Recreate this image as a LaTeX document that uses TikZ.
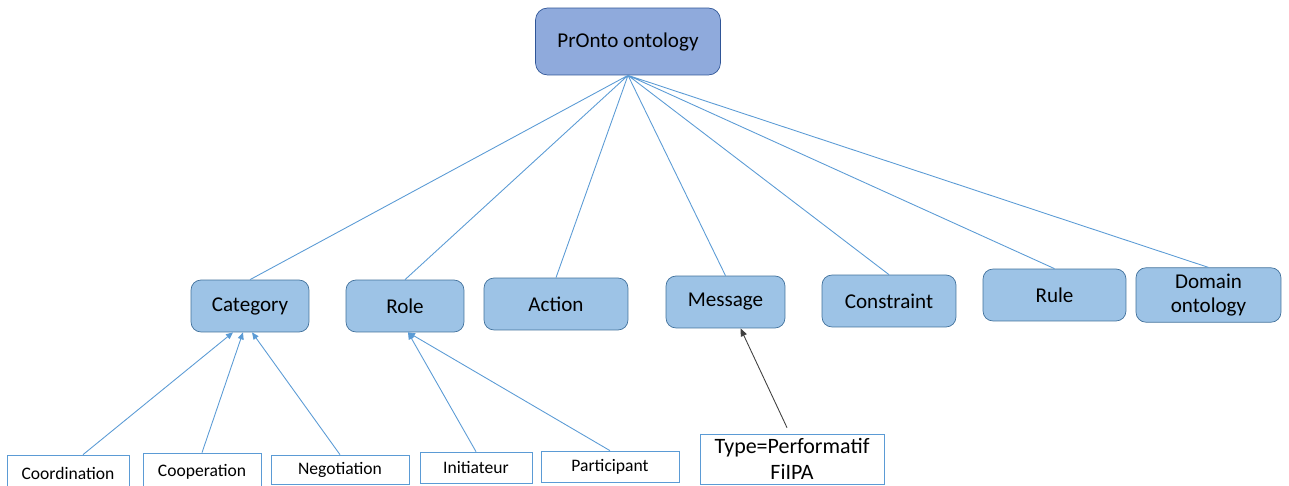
\documentclass[tikz,border=0pt]{standalone}
\usepackage{fontspec}
\setmainfont{Carlito}
\usetikzlibrary{arrows.meta}

\definecolor{rootfill}{RGB}{143,170,220}
\definecolor{rootline}{RGB}{47,85,151}
\definecolor{midfill}{RGB}{157,195,230}
\definecolor{midline}{RGB}{65,113,156}
\definecolor{linkblue}{RGB}{91,155,213}

\begin{document}
\begin{tikzpicture}[x=0.02cm, y=-0.02cm]
    \tikzstyle{root}=[draw=rootline, fill=rootfill, rounded corners=0.24cm, minimum width=3.7cm, minimum height=1.34cm, font=\fontsize{12}{14}\selectfont];
    \tikzstyle{concept}=[draw=midline, fill=midfill, rounded corners=0.2cm, minimum height=1.04cm, align=center, font=\fontsize{12}{14}\selectfont];
    \tikzstyle{leaf}=[draw=linkblue, fill=white, minimum height=0.6cm, font=\fontsize{10}{12}\selectfont];
    \tikzstyle{link}=[linkblue, line width=0.5pt];
    \tikzstyle{up}=[linkblue, line width=0.5pt, -{Triangle[length=4pt, width=3.4pt]}];

    \useasboundingbox (0,0) rectangle (1289,486);
    \clip (0,0) rectangle (1289,486);

    \node[root] at (628,41.5) (pronto) {PrOnto ontology};

    \node[concept, minimum width=2.36cm] at (250,306) (cat) {Category};
    \node[concept, minimum width=2.36cm] at (405,306) (role) {Role};
    \node[concept, minimum width=2.88cm] at (556,304) (action) {Action};
    \node[concept, minimum width=2.38cm] at (725.5,302) (msg) {Message};
    \node[concept, minimum width=2.68cm] at (889,301) (constr) {Constraint};
    \node[concept, minimum width=2.86cm] at (1054.5,295) (rule) {Rule};
    \node[concept, minimum width=2.9cm] at (1208.5,295) (domain) {Domain\\ontology};

    \node[leaf, minimum width=2.44cm, minimum height=0.74cm] at (68,473.5) (coord) {Coordination};
    \node[leaf, minimum width=2.36cm, minimum height=0.74cm] at (202,471.5) (coop) {Cooperation};
    \node[leaf, minimum width=2.76cm, minimum height=0.58cm] at (340,469.5) (negot) {Negotiation};
    \node[leaf, minimum width=2.24cm, minimum height=0.62cm] at (476,467.5) (init) {Initiateur};
    \node[leaf, minimum width=2.76cm, minimum height=0.62cm] at (610,466.5) (part) {Participant};
    \node[leaf, minimum width=3.68cm, minimum height=1cm, inner ysep=0.5pt, align=center, font=\fontsize{12.5}{14.7}\selectfont] at (792,459) (perf) {Type=Performatif\\FiIPA};

    \draw[link] (pronto.south) -- (cat.north)
          (pronto.south) -- (role.north)
          (pronto.south) -- (action.north)
          (pronto.south) -- (msg.north)
          (pronto.south) -- (constr.north)
          (pronto.south) -- (rule.north)
          (pronto.south) -- (domain.north);

    \draw[up] ([xshift=0.3cm]coord.north) -- ([xshift=-0.34cm]cat.south);
    \draw[up] (coop.north) -- ([xshift=-0.14cm]cat.south);
    \draw[up] (negot.north) -- ([xshift=0.04cm]cat.south);
    \draw[up] (init.north) -- ([xshift=0.06cm]role.south);
    \draw[up] (part.north) -- ([xshift=0.06cm]role.south);
    \draw[black!75, line width=0.5pt, -{Triangle[length=4.5pt, width=3.6pt]}] ([xshift=-0.1cm, yshift=0.12cm]perf.north) -- ([xshift=0.3cm]msg.south);
\end{tikzpicture}
\end{document}
